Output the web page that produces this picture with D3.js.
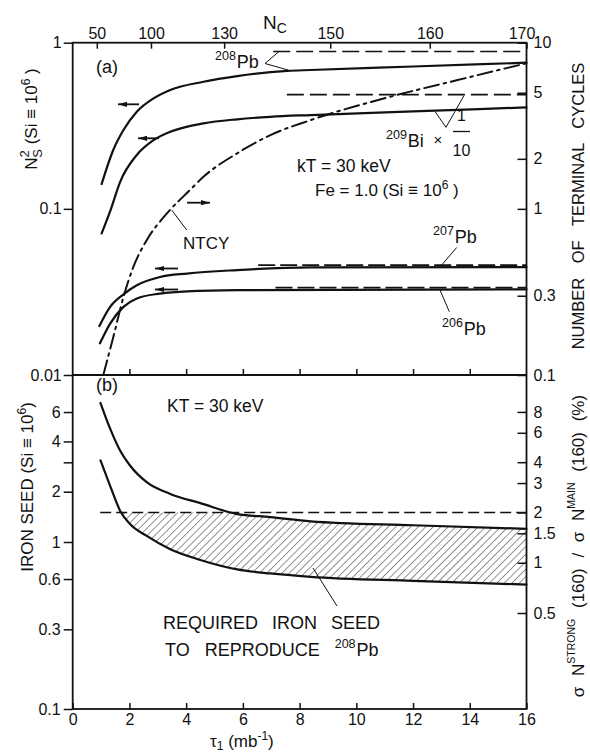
<!DOCTYPE html>
<html><head><meta charset="utf-8">
<script src="https://cdn.jsdelivr.net/npm/d3@7"></script>
<style>
body{margin:0;background:#fff;}
svg{display:block;font-family:"Liberation Sans",Arial,sans-serif;fill:#111;}
</style></head><body>
<svg id="chart" width="590" height="755"></svg>
<script>
// ---------- panel (a): abundances vs tau1 ----------
const tau208 = [1.02, 1.43, 1.79, 2.26, 2.85, 3.44, 4.61, 5.8, 7.56, 8.39, 12, 16];
const pb208  = [0.141, 0.226, 0.298, 0.384, 0.462, 0.519, 0.582, 0.630, 0.676, 0.685, 0.719, 0.758];
const tau209 = [1.02, 1.35, 1.67, 2.26, 2.85, 3.44, 4.61, 5.8, 6.97, 8.39, 12, 16];
const bi209  = [0.0711, 0.100, 0.145, 0.211, 0.259, 0.291, 0.327, 0.346, 0.358, 0.367, 0.386, 0.408];
const tau207 = [0.94, 1.32, 1.79, 2.26, 3.08, 4.03, 5.8, 8.39, 16];
const pb207  = [0.0197, 0.0257, 0.0306, 0.0347, 0.0389, 0.0408, 0.0428, 0.0444, 0.0446];
const tau206 = [0.96, 1.32, 1.79, 2.26, 3.08, 4.03, 5.8, 16];
const pb206  = [0.0155, 0.0204, 0.0257, 0.0289, 0.0309, 0.0319, 0.0324, 0.0328];
// number of terminal cycles (right-hand scale)
const tauNtcy = [1.08, 1.43, 1.79, 2.14, 2.61, 3.32, 4.14, 4.61, 5.8, 6.97, 8.39, 11.2, 13.57, 16];
const ntcy    = [0.1, 0.169, 0.295, 0.448, 0.648, 0.938, 1.30, 1.56, 2.16, 2.78, 3.42, 4.73, 5.96, 7.52];
// observed levels (dashed): [value, tau start]
const obs208 = [0.885, 7.07];
const obs209 = [0.487, 7.55];
const obs207 = [0.0458, 6.54];
const obs206 = [0.0336, 7.15];

// ---------- panel (b): iron seed ----------
const tauSeed   = [0.98, 1.32, 1.67, 2.02, 2.61, 3.44, 4.5, 5.8, 6.97, 8.39, 12, 16];
const seedUpper = [6.8, 4.77, 3.53, 2.87, 2.28, 1.94, 1.71, 1.47, 1.41, 1.33, 1.26, 1.20];
const seedLower = [3.08, 2.17, 1.54, 1.28, 1.087, 0.904, 0.78, 0.685, 0.648, 0.619, 0.585, 0.556];
const ratioLevel = 2;      // sigma N strong / sigma N main (%), dashed
const ratioTauStart = 0.97;

// ---------- tick sets ----------
const xTicks = [0, 2, 4, 6, 8, 10, 12, 14, 16];
const ncLabels = [50, 100, 130, 150, 160, 170];
const ncTau    = [0.85, 2.76, 5.34, 9.08, 12.59, 16];
const topLeftTicks = [0.01, 0.1, 1];
const topRightTicks = [0.1, 0.3, 1, 2, 5, 10];
const botLeftTicks = [0.1, 0.3, 0.6, 1, 2, 3, 4, 6];
const botLeftLabels = ["0.1", "0.3", "0.6", "1", "2", "", "4", "6"];
const botRightTicks = [0.5, 1, 1.5, 2, 3, 4, 6, 8];

const svg = d3.select("#chart");
const L = 72.7, R = 526.5, T = 42.7, M = 375, B = 709;

const x = d3.scaleLinear().domain([0, 16]).range([L, R]);
const yTop = d3.scaleLog().domain([0.01, 1]).range([M, T]);
const yNt  = d3.scaleLog().domain([0.1, 10]).range([M, T]);
const yBot = d3.scaleLog().domain([0.1, 10]).range([B, M]);
const yRat = d3.scaleLog().domain([0.1331, 13.31]).range([B, M]);
const xNc  = d3.scaleOrdinal().domain(ncLabels).range(ncTau.map(t => x(t)));

const ink = "#111";
const fmt = d => String(d);

// ---------- axes ----------
function styleAxis(g, fs) {
  g.select(".domain").remove();
  g.selectAll("line").attr("stroke", ink).attr("stroke-width", 1.5);
  g.selectAll("text").attr("fill", ink).style("font-size", fs + "px")
    .style("font-family", '"Liberation Sans",Arial,sans-serif');
}
svg.append("g").attr("transform", `translate(${L},0)`)
  .call(d3.axisLeft(yTop).tickValues(topLeftTicks).tickFormat(fmt).tickSize(9).tickPadding(2))
  .call(g => styleAxis(g, 16));
svg.append("g").attr("transform", `translate(${L},0)`)
  .call(d3.axisLeft(yBot).tickValues(botLeftTicks).tickFormat((d, i) => botLeftLabels[i]).tickSize(9).tickPadding(3))
  .call(g => styleAxis(g, 16));
svg.append("g").attr("transform", `translate(${R},0)`)
  .call(d3.axisRight(yNt).tickValues(topRightTicks).tickFormat(fmt).tickSize(-9).tickPadding(7))
  .call(g => styleAxis(g, 16));
svg.append("g").attr("transform", `translate(${R},0)`)
  .call(d3.axisRight(yRat).tickValues(botRightTicks).tickFormat(fmt).tickSize(-9).tickPadding(7))
  .call(g => styleAxis(g, 16));
svg.append("g").attr("transform", `translate(0,${B})`)
  .call(d3.axisBottom(x).tickValues(xTicks).tickFormat(fmt).tickSize(-6).tickPadding(5))
  .call(g => styleAxis(g, 16));
svg.append("g").attr("transform", `translate(0,${M})`)
  .call(d3.axisBottom(x).tickValues(xTicks.slice(1, -1)).tickFormat("").tickSize(-6))
  .call(g => styleAxis(g, 16));
svg.append("g").attr("transform", `translate(0,${T})`)
  .call(d3.axisTop(xNc).tickValues(ncLabels).tickFormat(fmt).tickSize(-6).tickPadding(4))
  .call(g => styleAxis(g, 16))
  .call(g => g.selectAll("text").filter(d => d === 170).attr("dx", -5));

// frame
svg.append("rect").attr("x", L).attr("y", T).attr("width", R - L).attr("height", B - T)
  .attr("fill", "none").attr("stroke", ink).attr("stroke-width", 1.8);
svg.append("line").attr("x1", L).attr("x2", R).attr("y1", M).attr("y2", M)
  .attr("stroke", ink).attr("stroke-width", 1.8);

// ---------- hatched region (panel b) ----------
const defs = svg.append("defs");
defs.append("pattern").attr("id", "hatch").attr("patternUnits", "userSpaceOnUse")
  .attr("width", 5.3).attr("height", 10).attr("patternTransform", "rotate(45)")
  .append("line").attr("x1", 0).attr("x2", 0).attr("y1", 0).attr("y2", 10)
  .attr("stroke", ink).attr("stroke-width", 0.9);
const seedBand = d3.area().curve(d3.curveMonotoneX)
  .x((d, i) => x(tauSeed[i])).y0((d, i) => yBot(seedLower[i])).y1((d, i) => yBot(seedUpper[i]));
defs.append("clipPath").attr("id", "bandClip").append("path").attr("d", seedBand(tauSeed));
defs.append("clipPath").attr("id", "levelClip").append("rect")
  .attr("x", L).attr("y", yRat(ratioLevel)).attr("width", R - L).attr("height", B - yRat(ratioLevel));
svg.append("g").attr("clip-path", "url(#levelClip)")
  .append("g").attr("clip-path", "url(#bandClip)")
  .append("rect").attr("x", L).attr("y", M).attr("width", R - L).attr("height", B - M)
  .attr("fill", "url(#hatch)");

// ---------- curves ----------
function curve(taus, vals, yScale, dash, width) {
  const line = d3.line().curve(d3.curveMonotoneX).x((d, i) => x(taus[i])).y(d => yScale(d));
  svg.append("path").attr("d", line(vals)).attr("fill", "none").attr("stroke", ink)
    .attr("stroke-width", width || 2.2).attr("stroke-linecap", "round")
    .attr("stroke-dasharray", dash || null);
}
curve(tau208, pb208, yTop);
curve(tau209, bi209, yTop);
curve(tau207, pb207, yTop);
curve(tau206, pb206, yTop);
curve(tauNtcy, ntcy, yNt, "15,5,2.5,5", 2);
curve(tauSeed, seedUpper, yBot);
curve(tauSeed, seedLower, yBot);

function level(v, t0, yScale, dash, width) {
  svg.append("line").attr("x1", x(t0)).attr("x2", x(16)).attr("y1", yScale(v)).attr("y2", yScale(v))
    .attr("stroke", ink).attr("stroke-width", width).attr("stroke-dasharray", dash);
}
level(obs208[0], obs208[1], yTop, "17,6", 1.6);
level(obs209[0], obs209[1], yTop, "17,6", 1.6);
level(obs207[0], obs207[1], yTop, "17,5", 1.8);
level(obs206[0], obs206[1], yTop, "17,5", 1.8);
level(ratioLevel, ratioTauStart, yRat, "11,5", 1.4);

// ---------- annotations ----------
function txt(xp, yp, s, fs, extra) {
  const t = svg.append("text").attr("x", xp).attr("y", yp).style("font-size", fs + "px").attr("fill", ink).text(s);
  if (extra) extra(t);
  return t;
}
function seg(pts) {
  svg.append("path").attr("d", d3.line()(pts)).attr("fill", "none").attr("stroke", ink).attr("stroke-width", 1);
}
function arrow(x1, x2, yp, dir) {
  svg.append("line").attr("x1", x1).attr("x2", x2).attr("y1", yp).attr("y2", yp)
    .attr("stroke", ink).attr("stroke-width", 1.8);
  const tip = dir < 0 ? x1 : x2;
  svg.append("path").attr("d", d3.line()([[tip, yp], [tip - dir * 9, yp - 2.6], [tip - dir * 9, yp + 2.6]]) + "Z")
    .attr("fill", ink);
}

arrow(118, 139, 104.3, -1);
arrow(138, 159, 138.3, -1);
arrow(187, 210, 202.7, 1);
arrow(155, 178, 268.5, -1);
arrow(155, 178, 289.5, -1);

txt(96, 73, "(a)", 18);
txt(297, 172, "kT = 30 keV", 17.5);
txt(315, 196, "", 17, t => {
  t.append("tspan").text("Fe = 1.0  (Si ≡ 10");
  t.append("tspan").attr("dy", -7).style("font-size", "12px").text("6");
  t.append("tspan").attr("dy", 7).text(" )");
});
txt(183, 249, "NTCY", 17);
seg([[171.7, 210], [186.7, 230]]);

function isotope(xp, yp, mass, el) {
  txt(xp, yp, "", 18, t => {
    t.append("tspan").attr("dy", -8).style("font-size", "12.5px").text(mass);
    t.append("tspan").attr("dy", 8).attr("dx", 1).text(el);
  });
}
isotope(215, 68, "208", "Pb");
seg([[279, 51.5], [265, 63.5], [288, 70]]);
isotope(386, 147, "209", "Bi");
txt(433.5, 145, "×", 15);
txt(461.5, 121, "1", 16, t => t.attr("text-anchor", "middle"));
svg.append("line").attr("x1", 453).attr("x2", 470).attr("y1", 131.5).attr("y2", 131.5)
  .attr("stroke", ink).attr("stroke-width", 1.3);
txt(461.5, 156, "10", 16, t => t.attr("text-anchor", "middle"));
seg([[435, 111.5], [446, 127.3], [464, 95.5]]);
isotope(433, 243, "207", "Pb");
seg([[456.7, 247.5], [441.7, 265]]);
isotope(442, 335, "206", "Pb");
seg([[440, 290], [449.3, 311.7]]);

txt(96, 391, "(b)", 18);
txt(167, 412, "KT = 30 keV", 17.5);
txt(163, 629, "REQUIRED IRON SEED", 18, t => t.style("word-spacing", "9px"));
txt(165, 656, "", 18, t => {
  t.style("word-spacing", "10px");
  t.append("tspan").text("TO REPRODUCE ");
  t.append("tspan").attr("dy", -8).style("font-size", "12.5px").text("208");
  t.append("tspan").attr("dy", 8).attr("dx", 1).text("Pb");
});
seg([[313, 568], [337, 606]]);

// ---------- axis titles ----------
txt(263, 29, "", 19, t => {
  t.append("tspan").text("N");
  t.append("tspan").attr("dy", 4).style("font-size", "14px").text("C");
});
txt(210, 747, "", 17, t => {
  t.append("tspan").text("τ");
  t.append("tspan").attr("dy", 3).style("font-size", "12px").text("1");
  t.append("tspan").attr("dy", -3).text(" (mb");
  t.append("tspan").attr("dy", -7).style("font-size", "12px").text("-1");
  t.append("tspan").attr("dy", 7).text(")");
});
svg.append("text").attr("transform", "translate(37,119) rotate(-90)").attr("text-anchor", "middle")
  .style("font-size", "17px").attr("fill", ink)
  .call(t => {
    t.append("tspan").text("N");
    t.append("tspan").attr("dy", -8).style("font-size", "13px").text("2");
    t.append("tspan").attr("dx", -7.5).attr("dy", 13).style("font-size", "13px").text("S");
    t.append("tspan").attr("dy", -5).text(" (Si ≡ 10");
    t.append("tspan").attr("dy", -7).style("font-size", "12px").text("6");
    t.append("tspan").attr("dy", 7).text(" )");
  });
svg.append("text").attr("transform", "translate(584,206) rotate(-90)").attr("text-anchor", "middle")
  .style("font-size", "16.5px").style("word-spacing", "10px").attr("fill", ink)
  .text("NUMBER OF TERMINAL CYCLES");
svg.append("text").attr("transform", "translate(33,487) rotate(-90)").attr("text-anchor", "middle")
  .style("font-size", "17px").attr("fill", ink)
  .call(t => {
    t.append("tspan").text("IRON SEED (Si ≡ 10");
    t.append("tspan").attr("dy", -7).style("font-size", "12px").text("6");
    t.append("tspan").attr("dy", 7).text(")");
  });
svg.append("text").attr("transform", "translate(584,546) rotate(-90)").attr("text-anchor", "middle")
  .style("font-size", "17px").style("word-spacing", "6px").attr("fill", ink)
  .call(t => {
    t.append("tspan").text("σ N");
    t.append("tspan").attr("dy", -9).style("font-size", "10.5px").text("STRONG");
    t.append("tspan").attr("dy", 9).text(" (160) / σ N");
    t.append("tspan").attr("dy", -9).style("font-size", "10.5px").text("MAIN");
    t.append("tspan").attr("dy", 9).text(" (160) (%)");
  });
</script>
</body></html>
